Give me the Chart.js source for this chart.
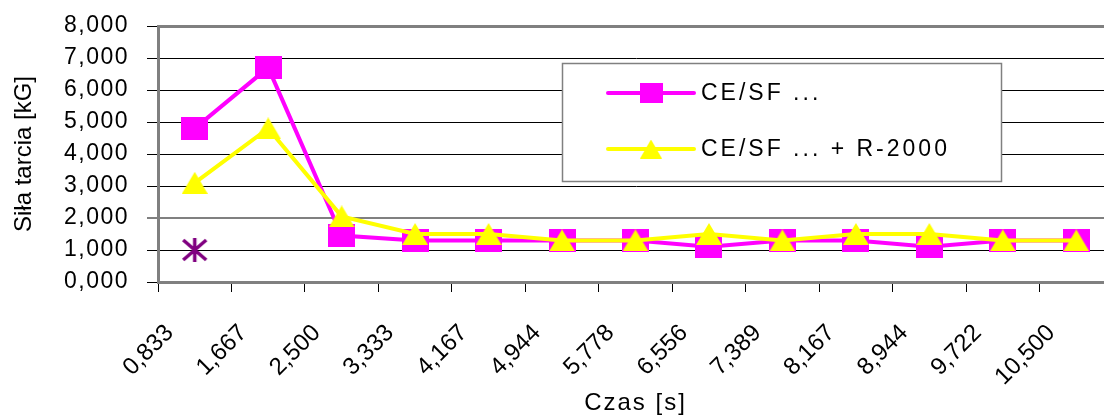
<!DOCTYPE html>
<html>
<head>
<meta charset="utf-8">
<script src="https://cdn.jsdelivr.net/npm/chart.js@4.4.1/dist/chart.umd.min.js"></script>
<style>
  html, body { margin: 0; padding: 0; background: #fff; overflow: hidden; }
  #wrap { width: 1113px; height: 418px; }
</style>
</head>
<body>
<div id="wrap"><canvas id="frictionChart"></canvas></div>
<script>
// czas [s] - etykiety osi X
const timeLabels = ['0,833', '1,667', '2,500', '3,333', '4,167', '4,944', '5,778',
                    '6,556', '7,389', '8,167', '8,944', '9,722', '10,500'];

// siła tarcia [kG]
const ceSf      = [4.8, 6.7, 1.45, 1.3, 1.3, 1.3, 1.3, 1.1, 1.3, 1.3, 1.1, 1.3, 1.3];
const ceSfR2000 = [3.1, 4.8, 2.05, 1.5, 1.5, 1.3, 1.3, 1.5, 1.3, 1.5, 1.5, 1.3, 1.3];
const extraPoint = [1.0, null, null, null, null, null, null, null, null, null, null, null, null];

const yMin = 0;
const yMax = 8;
const yStep = 1;

const FONT = "'Liberation Sans', Arial, sans-serif";

// Excel-like markers drawn once on small canvases
function makeMarker(shape, w, h, color) {
    const c = document.createElement('canvas');
    c.width = w;
    c.height = h;
    const g = c.getContext('2d');
    g.fillStyle = color;
    g.strokeStyle = color;
    if (shape === 'square') {
        g.fillRect(0, 0, w, h);
    } else if (shape === 'triangle') {
        g.beginPath();
        g.moveTo(w / 2, 0);
        g.lineTo(w, h);
        g.lineTo(0, h);
        g.closePath();
        g.fill();
    } else if (shape === 'asterisk') {
        g.lineWidth = 3.5;
        g.beginPath();
        g.moveTo(w / 2, 0); g.lineTo(w / 2, h);
        g.moveTo(2, 2); g.lineTo(w - 2, h - 2);
        g.moveTo(w - 2, 2); g.lineTo(2, h - 2);
        g.stroke();
    }
    return c;
}

const pinkSquare = makeMarker('square', 27, 23, '#FF00FF');
const yellowTriangle = makeMarker('triangle', 26, 22, '#FFFF00');
const purpleStar = makeMarker('asterisk', 27, 24, '#800080');

// adds letter spacing to one part of a scale's drawing
function spaced(scale, method, spacing) {
    if (scale['_sp_' + method]) return;
    const orig = scale[method];
    scale[method] = function (...args) {
        this.ctx.save();
        this.ctx.letterSpacing = spacing;
        orig.apply(this, args);
        this.ctx.restore();
    };
    scale['_sp_' + method] = true;
}

// legend box inside the plot, like the original
const boxLegend = {
    id: 'boxLegend',
    afterDraw(chart) {
        const ctx = chart.ctx;
        ctx.save();
        ctx.fillStyle = '#fff';
        ctx.fillRect(562, 63, 439, 118);
        ctx.strokeStyle = '#808080';
        ctx.lineWidth = 1.5;
        ctx.strokeRect(562.5, 63.5, 439, 118);

        const rowsY = [93, 149];
        const items = chart.data.datasets.filter(ds => ds.legendMarker);
        items.forEach((ds, i) => {
            const y = rowsY[i];
            ctx.strokeStyle = ds.borderColor;
            ctx.lineWidth = 4;
            ctx.lineCap = 'round';
            ctx.beginPath();
            ctx.moveTo(608, y);
            ctx.lineTo(694, y);
            ctx.stroke();
            const m = ds.legendMarker;
            ctx.drawImage(m, 651 - m.width / 2, y - m.height / 2);
            ctx.fillStyle = '#000';
            ctx.font = '23px ' + FONT;
            ctx.letterSpacing = '3px';
            ctx.textBaseline = 'middle';
            ctx.textAlign = 'left';
            ctx.fillText(ds.label, 701, y + 1);
        });
        ctx.restore();
    }
};

new Chart(document.getElementById('frictionChart'), {
    type: 'line',
    data: {
        labels: timeLabels,
        datasets: [
            {
                label: 'CE/SF ...',
                data: ceSf,
                borderColor: '#FF00FF',
                backgroundColor: '#FF00FF',
                borderWidth: 4,
                pointStyle: pinkSquare,
                pointRadius: 12,
                legendMarker: makeMarker('square', 23, 20, '#FF00FF'),
                order: 1
            },
            {
                label: 'CE/SF ... + R-2000',
                data: ceSfR2000,
                borderColor: '#FFFF00',
                backgroundColor: '#FFFF00',
                borderWidth: 4,
                pointStyle: yellowTriangle,
                pointRadius: 12,
                legendMarker: makeMarker('triangle', 22, 19, '#FFFF00'),
                order: 0
            },
            {
                label: '',
                data: extraPoint,
                showLine: false,
                borderColor: '#800080',
                backgroundColor: '#800080',
                pointStyle: purpleStar,
                pointRadius: 12,
                order: 2
            }
        ]
    },
    options: {
        responsive: true,
        maintainAspectRatio: false,
        animation: false,
        layout: {
            autoPadding: false,
            padding: { left: 0, right: 0, top: 26, bottom: 0 }
        },
        plugins: {
            legend: { display: false },
            tooltip: { enabled: false },
            title: { display: false }
        },
        scales: {
            x: {
                offset: true,
                grid: {
                    offset: true,
                    drawOnChartArea: false,
                    drawTicks: true,
                    tickLength: 10,
                    color: '#000',
                    lineWidth: 1
                },
                border: { color: '#808080', width: 3 },
                ticks: {
                    minRotation: 45,
                    maxRotation: 45,
                    autoSkip: false,
                    labelOffset: -25,
                    padding: 27,
                    color: '#000',
                    font: { family: FONT, size: 24 }
                },
                title: {
                    display: true,
                    text: 'Czas [s]',
                    color: '#000',
                    font: { family: FONT, size: 24 },
                    padding: { top: 0, bottom: 0 }
                },
                afterFit(scale) {
                    scale.height = 136;
                    scale.paddingLeft = 0;
                    scale.paddingRight = 0;
                    spaced(scale, 'drawTitle', '2px');
                }
            },
            y: {
                min: yMin,
                max: yMax,
                ticks: {
                    stepSize: yStep,
                    padding: 18,
                    color: '#000',
                    font: { family: FONT, size: 23 },
                    callback: v => v.toFixed(3).replace('.', ',')
                },
                grid: {
                    tickLength: 11,
                    tickColor: '#000',
                    tickWidth: 1,
                    color: c => (c.tick && (c.tick.value === 8 || c.tick.value === 2 || c.tick.value === 0)) ? '#808080' : '#000',
                    lineWidth: c => {
                        if (!c.tick) return 1;
                        if (c.tick.value === 8 || c.tick.value === 0) return 3;
                        if (c.tick.value === 2) return 2;
                        return 1;
                    }
                },
                border: { color: '#808080', width: 3 },
                title: {
                    display: true,
                    text: 'Siła tarcia [kG]',
                    color: '#000',
                    font: { family: FONT, size: 24 },
                    padding: { top: 10, bottom: 0 }
                },
                afterFit(scale) {
                    scale.width = 158;
                    scale.paddingTop = 0;
                    scale.paddingBottom = 0;
                    spaced(scale, 'drawLabels', '1.5px');
                }
            }
        }
    },
    plugins: [boxLegend]
});
</script>
</body>
</html>
